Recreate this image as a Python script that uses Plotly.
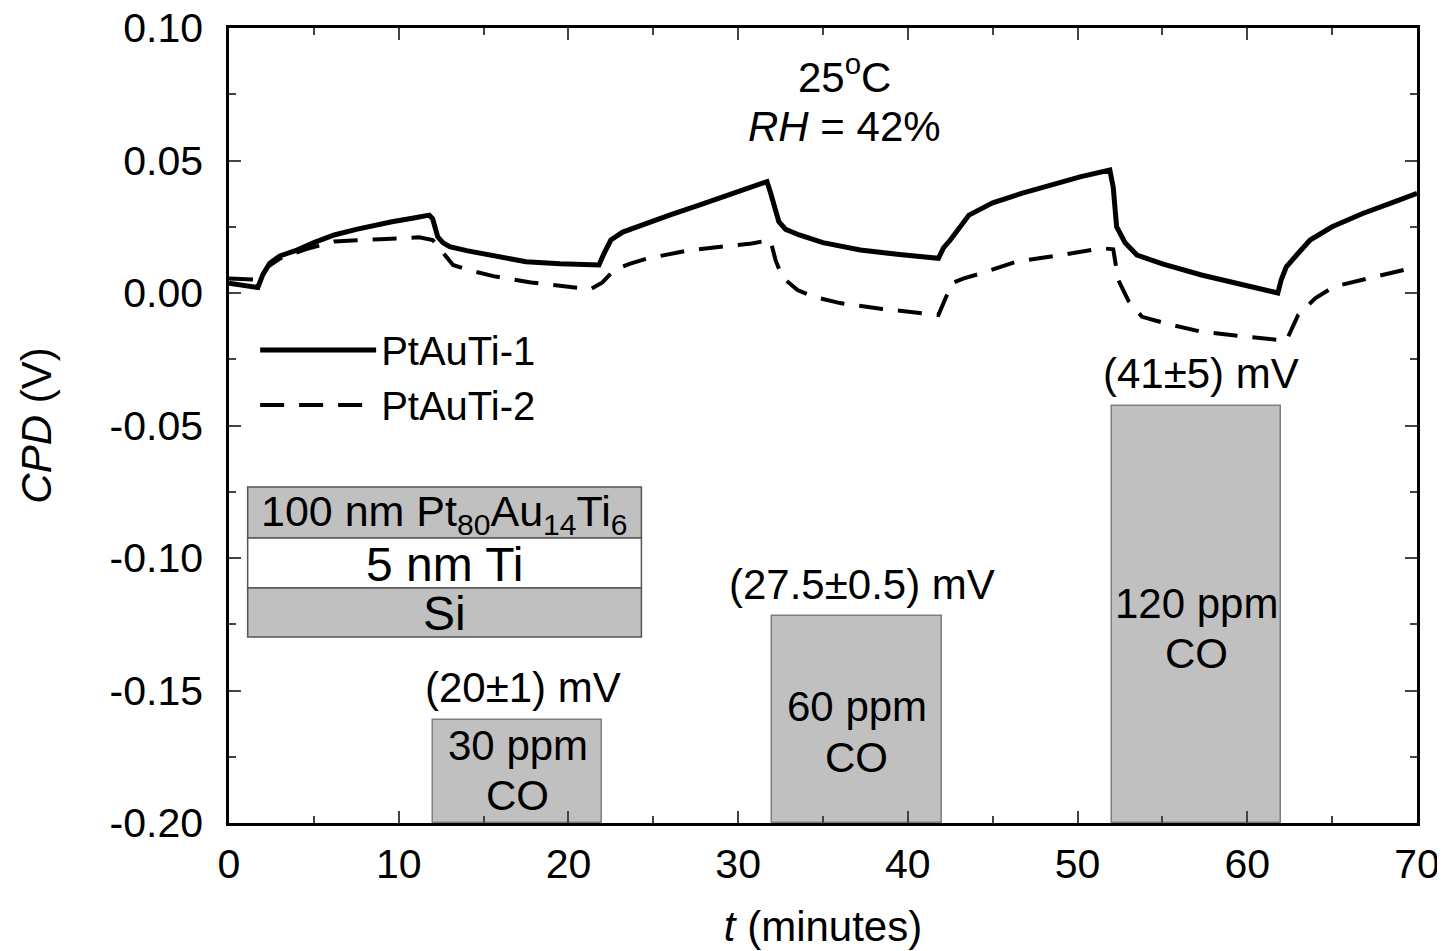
import plotly.graph_objects as go

# ---- data ----
t1 = [0, 0.8, 1.7, 2.0, 2.4, 3.0, 4.0, 5.0, 6.2, 7.5, 8.5, 9.6, 10.8, 11.8, 12.0, 12.3, 12.6, 13.0, 14.0,
      15.5, 17.5, 19.5, 21.8, 22.1, 22.5, 23.2, 24.3, 26.0, 27.7, 29.5, 31.7, 31.9, 32.4, 32.8, 33.6, 35.0,
      37.2, 39.5, 41.8, 42.1, 42.5, 43.6, 45.0, 46.7, 48.5, 50.2, 51.9, 52.1, 52.3, 52.8, 53.5, 55.0, 57.3,
      59.5, 61.8, 62.0, 62.3, 63.0, 63.7, 65.0, 66.8, 68.5, 70]
cpd1 = [0.0037, 0.0030, 0.0021, 0.0070, 0.0112, 0.0140, 0.0162, 0.0190, 0.0219, 0.0240, 0.0255, 0.0269,
        0.0282, 0.0294, 0.0280, 0.0212, 0.0190, 0.0175, 0.0160, 0.0140, 0.0118, 0.0110, 0.0106, 0.0150,
        0.0200, 0.0230, 0.0257, 0.0295, 0.0332, 0.0370, 0.0420, 0.0380, 0.0269, 0.0240, 0.0219, 0.0190,
        0.0162, 0.0145, 0.0131, 0.0170, 0.0200, 0.0294, 0.0340, 0.0376, 0.0410, 0.0439, 0.0464, 0.0400,
        0.0250, 0.0190, 0.0143, 0.0110, 0.0068, 0.0035, 0.0000, 0.0050, 0.0099, 0.0150, 0.0200, 0.0250,
        0.0300, 0.0340, 0.0376]

t2 = [0, 1.0, 1.8, 2.3, 3.0, 4.5, 6.2, 8.9, 11.2, 12.0, 12.5, 13.2, 14.2, 15.7, 17.8, 19.8, 21.3, 22.0,
      22.7, 23.6, 24.7, 27.2, 30.8, 31.9, 32.2, 32.6, 33.5, 34.5, 36.0, 38.5, 40.7, 41.8, 42.6, 43.3, 44.3,
      46.4, 49.0, 51.4, 52.1, 52.4, 53.0, 53.8, 55.5, 57.3, 60.0, 62.3, 63.0, 64.0, 65.1, 67.5, 70]
cpd2 = [0.0055, 0.0052, 0.0050, 0.0100, 0.0130, 0.0165, 0.0194, 0.0203, 0.0210, 0.0200, 0.0160, 0.0106,
        0.0085, 0.0062, 0.0040, 0.0026, 0.0014, 0.0040, 0.0087, 0.0110, 0.0131, 0.0162, 0.0187, 0.0200,
        0.0125, 0.0060, 0.0011, -0.0015, -0.0038, -0.0060, -0.0076, -0.0083, 0.0037, 0.0055, 0.0074,
        0.0118, 0.0143, 0.0169, 0.0165, 0.0049, -0.0030, -0.0090, -0.0120, -0.0146, -0.0165, -0.0180,
        -0.0083, -0.0020, 0.0024, 0.0060, 0.0099]

bar_centers = [17, 37, 57]
bar_tops = [-0.161, -0.122, -0.0426]
bar_base = -0.20
conc_labels = ["30 ppm", "60 ppm", "120 ppm"]
resp_labels = ["(20±1) mV", "(27.5±0.5) mV", "(41±5) mV"]

y_ticks = [0.10, 0.05, 0.00, -0.05, -0.10, -0.15, -0.20]
y_ticktext = ["0.10", "0.05", "0.00", "-0.05", "-0.10", "-0.15", "-0.20"]
x_ticks = [0, 10, 20, 30, 40, 50, 60, 70]

# ---- styling / layout constants ----
FONT = "Liberation Sans, Arial, sans-serif"
GRAY = "#c0c0c0"
EDGE = "#7f7f7f"
conc_label_y = [-0.1706, -0.1562, -0.1170]   # y of the "xx ppm" line inside each bar
line_gap = 0.0189                              # spacing to the "CO" line

fig = go.Figure()

fig.add_trace(go.Bar(
    x=bar_centers, y=[tp - bar_base for tp in bar_tops], base=bar_base, width=10,
    marker=dict(color=GRAY, line=dict(color=EDGE, width=1.5)), showlegend=False, hoverinfo="skip"))

fig.add_trace(go.Scatter(x=t1, y=cpd1, mode="lines", name="PtAuTi-1",
                         line=dict(color="black", width=5)))
fig.add_trace(go.Scatter(x=t2, y=cpd2, mode="lines", name="PtAuTi-2",
                         line=dict(color="black", width=4, dash="24px,15px")))

# bar labels
for xc, top, lab, resp, ly in zip(bar_centers, bar_tops, conc_labels, resp_labels, conc_label_y):
    fig.add_annotation(x=xc, y=ly, text=lab, showarrow=False, font=dict(size=42, color="black"))
    fig.add_annotation(x=xc, y=ly - line_gap, text="CO", showarrow=False, font=dict(size=42, color="black"))
    fig.add_annotation(x=xc + 0.3, y=top, text=resp, showarrow=False, yanchor="middle", yshift=32,
                       font=dict(size=42, color="black"))

# conditions
fig.add_annotation(x=36.25, y=0.0825, text="25<sup>o</sup>C", showarrow=False, font=dict(size=42, color="black"))
fig.add_annotation(x=36.25, y=0.0628, text="<i>RH</i> = 42%", showarrow=False, font=dict(size=42, color="black"))

# layer stack inset
layers = [(-0.0732, -0.0925, GRAY, "100 nm Pt<sub>80</sub>Au<sub>14</sub>Ti<sub>6</sub>", 43),
          (-0.0925, -0.1113, "white", "5 nm Ti", 48),
          (-0.1113, -0.1298, GRAY, "Si", 48)]
for ytop, ybot, col, txt, fs in layers:
    fig.add_shape(type="rect", xref="x", yref="y", x0=1.1, x1=24.3, y0=ybot, y1=ytop,
                  fillcolor=col, line=dict(color="#555555", width=1.5))
    fig.add_annotation(x=12.7, y=(ytop + ybot) / 2, text=txt, showarrow=False,
                       font=dict(size=fs, color="black"), yshift=-1)

fig.update_layout(
    width=1445, height=951,
    margin=dict(l=221, r=36, t=20, b=136, autoexpand=False),
    paper_bgcolor="white", plot_bgcolor="white",
    font=dict(family=FONT, size=41, color="black"),
    bargap=0,
    legend=dict(x=0.022, y=0.636, xanchor="left", yanchor="top", bgcolor="rgba(0,0,0,0)",
                font=dict(size=40), itemwidth=116, tracegroupgap=0),
)

fig.update_xaxes(range=[0, 70], tickvals=x_ticks, ticks="inside", ticklen=12, tickwidth=2,
                 showline=True, linewidth=2.5, linecolor="black", mirror="ticks",
                 showgrid=False, zeroline=False, automargin=False, ticklabelstandoff=3,
                 ticklabeloverflow="allow",
                 minor=dict(dtick=5, ticks="inside", ticklen=7, tickwidth=2, showgrid=False),
                 title=dict(text="<i>t</i> (minutes)", font=dict(size=42), standoff=26),
                 tickfont=dict(size=41))
fig.update_yaxes(range=[-0.20, 0.10], tickvals=y_ticks, ticktext=y_ticktext, ticks="inside",
                 ticklen=12, tickwidth=2,
                 showline=True, linewidth=2.5, linecolor="black", mirror="ticks",
                 showgrid=False, zeroline=False, automargin=False, ticklabelstandoff=15,
                 ticklabeloverflow="allow",
                 minor=dict(dtick=0.025, ticks="inside", ticklen=7, tickwidth=2, showgrid=False),
                 title=dict(text="<i>CPD</i> (V)", font=dict(size=42), standoff=45),
                 tickfont=dict(size=41))

fig.write_html("out.html")
